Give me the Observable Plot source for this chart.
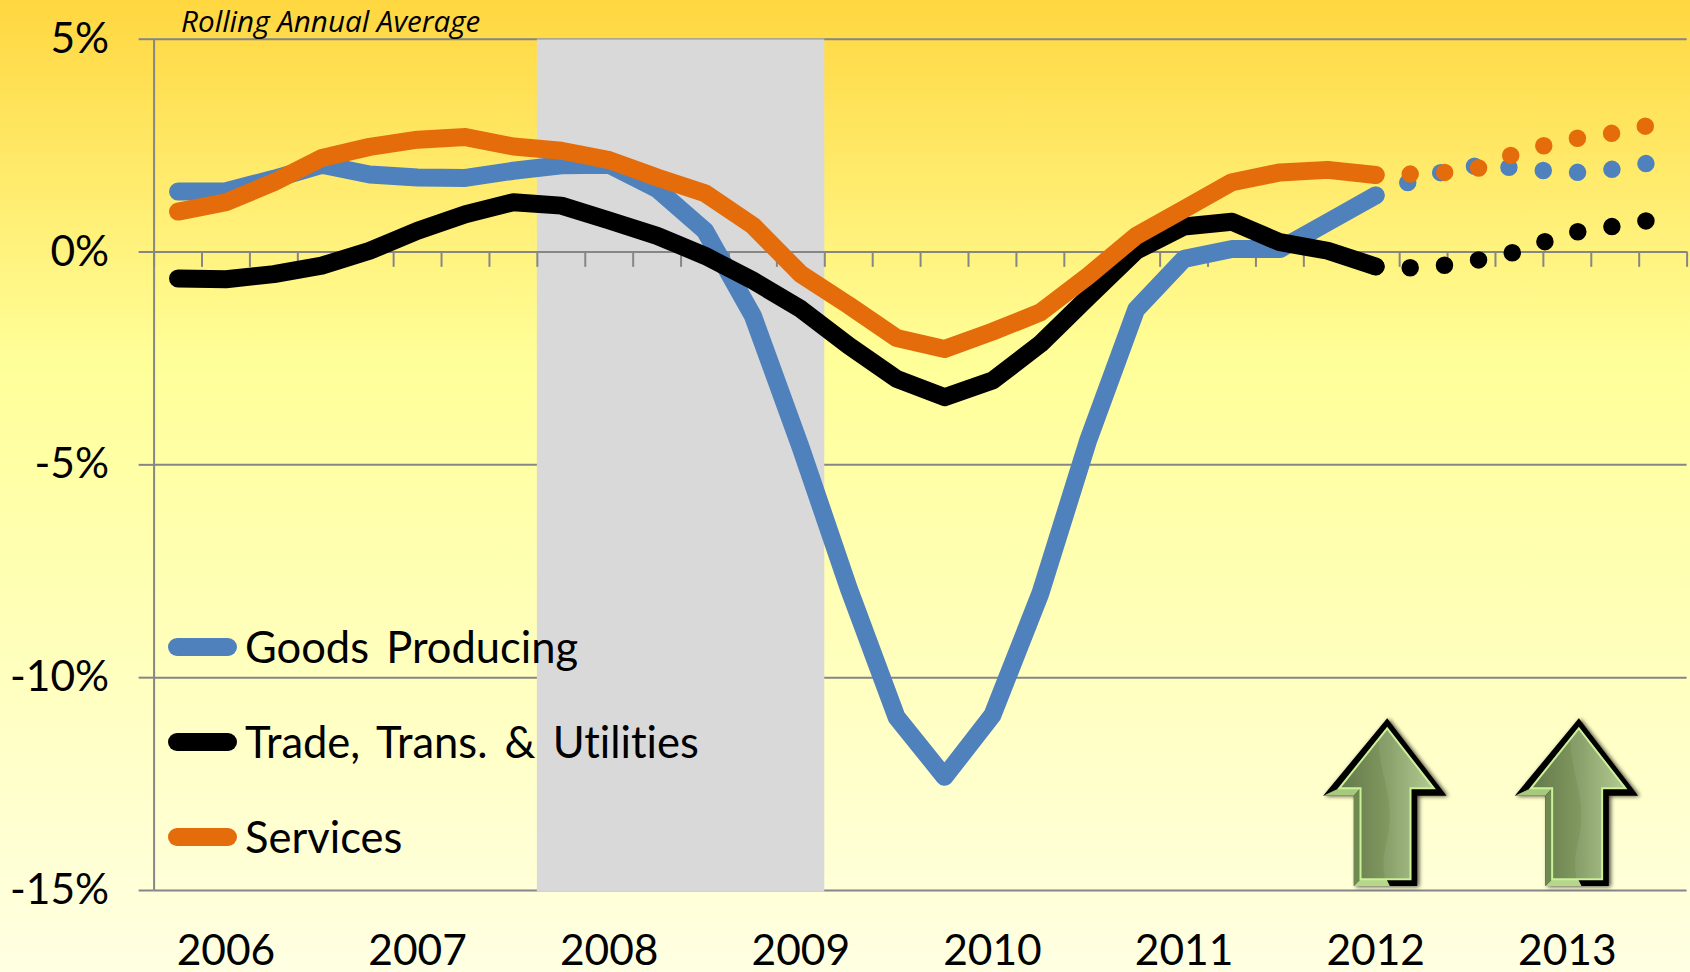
<!DOCTYPE html>
<html>
<head>
<meta charset="utf-8">
<script src="https://cdn.jsdelivr.net/npm/d3@7"></script>
<script src="https://cdn.jsdelivr.net/npm/@observablehq/plot@0.6"></script>
<style>
  html, body { margin: 0; padding: 0; width: 1690px; height: 972px; overflow: hidden; }
  body { background: linear-gradient(180deg, #FFD740 0%, #FFFF99 37%, #FFFFE3 100%); font-family: Lato, sans-serif; font-variant-ligatures: none; }
  #wrap { position: relative; width: 1690px; height: 972px; }
  .legend-row { position: absolute; left: 168px; display: flex; align-items: center; height: 60px; color: #000; font-size: 43.5px; word-spacing: 6px; white-space: nowrap; font-variant-ligatures: none; }
  .legend-row i { display: block; width: 69px; height: 18px; border-radius: 9px; margin-right: 8px; }
  .legend-row span { display: block; transform: translateY(-1.5px); }
</style>
</head>
<body>
<div id="wrap"></div>
<script>
const years = [2006, 2007, 2008, 2009, 2010, 2011, 2012, 2013];
const yTicks = [5, 0, -5, -10, -15];
const recession = [{ start: 8, end: 14 }];

// Quarterly rolling annual averages (%), 2006 Q1 to 2012 Q2
const goods = [1.42, 1.43, 1.72, 2.05, 1.82, 1.75, 1.74, 1.91, 2.04, 2.05, 1.48, 0.5, -1.5, -4.6, -7.9, -10.93, -12.33, -10.88, -8.02, -4.42, -1.35, -0.16, 0.07, 0.07, 0.7, 1.33];
const trade = [-0.62, -0.64, -0.52, -0.32, 0.03, 0.5, 0.89, 1.17, 1.09, 0.74, 0.38, -0.09, -0.67, -1.34, -2.2, -2.98, -3.41, -3.02, -2.16, -1.06, 0.03, 0.6, 0.71, 0.23, 0.03, -0.34];
const services = [0.95, 1.17, 1.64, 2.21, 2.47, 2.64, 2.7, 2.48, 2.38, 2.16, 1.75, 1.38, 0.62, -0.52, -1.25, -2.02, -2.28, -1.87, -1.42, -0.56, 0.38, 1.01, 1.64, 1.87, 1.93, 1.81];

// Forecast, 2012 Q2 to 2013 Q4 (dotted)
const goodsForecast = [1.33, 1.78, 2.02, 1.98, 1.85, 1.95, 2.15];
const tradeForecast = [-0.34, -0.38, -0.22, 0.02, 0.44, 0.61, 0.8];
const servicesForecast = [1.81, 1.84, 1.91, 2.35, 2.64, 2.8, 3.05];

const forecastStart = goods.length - 1;
const quarterCount = years.length * 4;
const colors = { goods: "#4F81BD", trade: "#000000", services: "#E46C0A" };
const gridColor = "#868686";
const legendItems = [
  { name: "Goods Producing", color: colors.goods, top: 617 },
  { name: "Trade, Trans. & Utilities", color: colors.trade, top: 712 },
  { name: "Services", color: colors.services, top: 807 }
];

const quarters = d3.range(0, quarterCount + 1);
const solid = (values) => values.map((v, i) => ({ q: i + 0.5, v }));
const future = (values) => values.map((v, i) => ({ q: forecastStart + i + 0.5, v }));
const lineOpts = (stroke) => ({ x: "q", y: "v", stroke, strokeWidth: 18, strokeLinecap: "round", strokeLinejoin: "round" });
const dotOpts = (stroke) => ({ x: "q", y: "v", stroke, strokeWidth: 17.5, strokeLinecap: "round", strokeLinejoin: "round", strokeDasharray: "0 34.5" });

function arrows(index, { x, y }) {
  const root = d3.create("svg:g");
  const defs = root.append("defs");
  const grad = defs.append("linearGradient").attr("id", "arrowFill").attr("x1", 0).attr("x2", 1).attr("y1", 0).attr("y2", 0);
  grad.append("stop").attr("offset", "0%").attr("stop-color", "#63784A");
  grad.append("stop").attr("offset", "50%").attr("stop-color", "#80985F");
  grad.append("stop").attr("offset", "100%").attr("stop-color", "#ADC888");
  defs.append("filter").attr("id", "arrowBlur").attr("x", "-20%").attr("y", "-20%").attr("width", "140%").attr("height", "140%")
    .append("feGaussianBlur").attr("stdDeviation", 7);
  const inner = "292,85 432,265 362,265 362,538 212,538 212,265 148,265";
  const outer = "292,55 470,287 382,287 382,558 192,558 192,287 100,287";
  for (const q of [25.75, 29.75]) {
    const g = root.append("g").attr("transform", `translate(${x(q)},${y(-15) - 4}) scale(${1 / 3}) translate(-292,-558)`);
    g.append("polygon").attr("points", outer).attr("fill", "#000").attr("opacity", 0.7).attr("filter", "url(#arrowBlur)").attr("transform", "translate(6,2)");
    g.append("polygon").attr("points", outer).attr("fill", "#000");
    g.append("polygon").attr("points", "100,287 192,287 212,265 148,265").attr("fill", "#A7C97C");
    g.append("polygon").attr("points", "192,287 192,558 212,538 212,265").attr("fill", "#6E8A4E");
    g.append("polygon").attr("points", "192,558 300,558 290,538 212,538").attr("fill", "#B5D78A");
    g.append("polygon").attr("points", inner).attr("fill", "url(#arrowFill)");
    g.append("path").attr("d", "M268,115 C262,190 300,260 300,350 C300,420 270,460 285,535 L362,535 L362,265 L428,265 L292,90 Z").attr("fill", "#FFFFFF").attr("opacity", 0.08);
    g.append("polygon").attr("points", inner).attr("fill", "none").attr("stroke", "#CDF09A").attr("stroke-width", 6).attr("stroke-linejoin", "miter");
  }
  return root.node();
}

const chart = Plot.plot({
  width: 1690,
  height: 972,
  marginLeft: 153.6,
  marginRight: 3.4,
  marginTop: 38.7,
  marginBottom: 82,
  style: { background: "transparent", fontFamily: "Lato, sans-serif", overflow: "visible", fontVariantLigatures: "none" },
  x: { type: "linear", domain: [0, quarterCount] },
  y: { type: "linear", domain: [-15, 5] },
  marks: [
    Plot.ruleY(yTicks, { stroke: gridColor, strokeWidth: 2 }),
    Plot.ruleX([0], { y1: -15, y2: 5, stroke: gridColor, strokeWidth: 2 }),
    Plot.rectY(recession, { x1: "start", x2: "end", y1: -15.04, y2: 5, fill: "#D9D9D9" }),
    Plot.ruleY([5], { stroke: gridColor, strokeWidth: 1, strokeOpacity: 0.6 }),
    Plot.axisY({ ticks: yTicks, tickSize: 15, stroke: gridColor, strokeWidth: 2, fill: "none", label: null }),
    Plot.axisY({ ticks: yTicks, tickSize: 0, tickPadding: 45, fill: "#000", fontSize: 42.5, tickFormat: (d) => d + "%", label: null }),
    Plot.axisX({ ticks: years.map((_, i) => i * 4 + 1.5), tickSize: 0, tickPadding: 44, fill: "#000", fontSize: 42.5, tickFormat: (d) => String(years[(d - 1.5) / 4]), label: null }),
    Plot.ruleY([0], { stroke: gridColor, strokeWidth: 2 }),
    Plot.ruleX(quarters, { y1: 0, y2: -0.36, stroke: gridColor, strokeWidth: 2 }),
    Plot.line(future(goodsForecast), dotOpts(colors.goods)),
    Plot.line(future(tradeForecast), dotOpts(colors.trade)),
    Plot.line(future(servicesForecast), dotOpts(colors.services)),
    Plot.line(solid(goods), lineOpts(colors.goods)),
    Plot.line(solid(trade), lineOpts(colors.trade)),
    Plot.line(solid(services), lineOpts(colors.services)),
    arrows,
    Plot.text(["Rolling Annual Average"], { frameAnchor: "top-left", dx: 27, dy: -28, fontSize: 29.6, fontFamily: "Open Sans", fontStyle: "italic", fill: "#000", textAnchor: "start", lineAnchor: "top" })
  ]
});

const wrap = document.getElementById("wrap");
wrap.appendChild(chart);
for (const item of legendItems) {
  const row = document.createElement("div");
  row.className = "legend-row";
  row.style.top = item.top + "px";
  const key = document.createElement("i");
  key.style.background = item.color;
  row.appendChild(key);
  const label = document.createElement("span");
  label.textContent = item.name;
  row.appendChild(label);
  wrap.appendChild(row);
}
</script>
</body>
</html>
